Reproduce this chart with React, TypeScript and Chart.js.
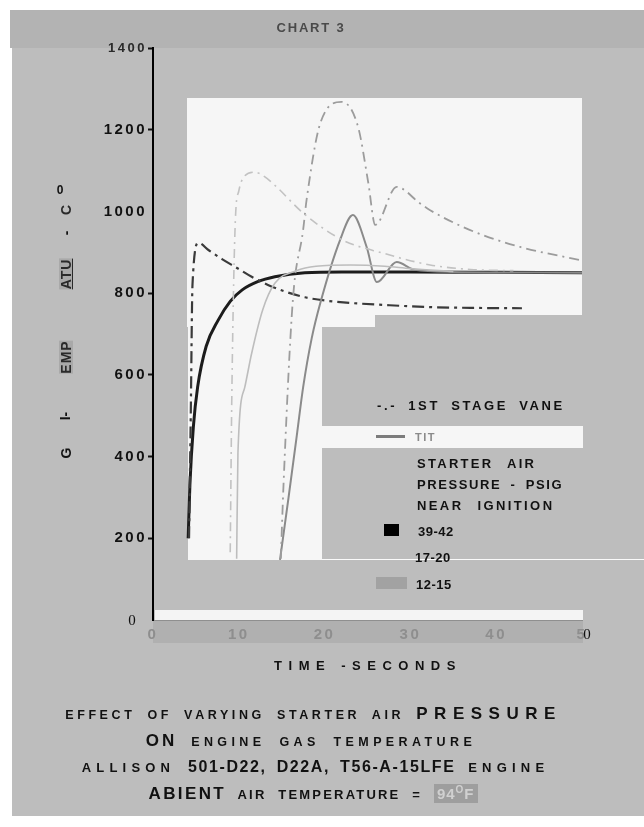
import React, { useEffect, useRef } from "react";
import { Chart, registerables } from "chart.js";

Chart.register(...registerables);

// ---- axis ticks ----
const xTickValues = [0, 10, 20, 30, 40, 50];
const xTickLabels = ["0", "10", "20", "30", "40", "5"];
const yTickValues = [0, 200, 400, 600, 800, 1000, 1200, 1400];
const yTickLabels = ["", "200", "400", "600", "800", "1000", "1200", "1400"];

// ---- series: starter air pressure 39-42 psig ----
const vane3942Time = [4.2, 4.4, 4.6, 5.3, 6.5, 8.0, 9.6, 11.5, 13.4, 15.5, 17.7, 20, 23, 27, 32, 37, 43];
const vane3942Temp = [200, 500, 820, 923, 905, 884, 864, 840, 820, 803, 790, 782, 776, 771, 766, 764, 763];
const tit3942Time = [4.1, 4.3, 4.7, 5.2, 6.2, 7.6, 9.0, 10.4, 12.2, 14.2, 17.7, 22, 30, 40, 50];
const tit3942Temp = [200, 330, 472, 570, 670, 734, 780, 808, 828, 840, 850, 852, 852, 851, 850];

// ---- series: 17-20 psig ----
const vane1720Time = [9.0, 9.2, 9.6, 10.0, 10.6, 11.9, 13.0, 14.4, 17.5, 22.1, 26.8, 32.3, 37, 42];
const vane1720Temp = [166, 570, 979, 1050, 1085, 1096, 1085, 1060, 996, 930, 898, 869, 858, 855];
const tit1720Time = [9.75, 9.9, 10.7, 11.5, 12.8, 14.2, 16.7, 19, 23, 27, 30, 35];
const tit1720Temp = [150, 409, 570, 653, 760, 824, 855, 866, 869, 866, 860, 853];

// ---- series: 12-15 psig ----
const vane1215Time = [14.9, 15.2, 16.3, 17.5, 17.9, 19.5, 22.0, 23.9, 25.1, 25.9, 28.4, 31.1, 32.3, 36.9, 42.8, 50];
const vane1215Temp = [150, 325, 783, 955, 1028, 1216, 1268, 1207, 1069, 967, 1060, 1020, 1003, 955, 913, 880];
const tit1215Time = [14.8, 15.8, 16.8, 17.5, 18.5, 19.5, 21.8, 23.3, 24.9, 26.1, 28.4, 30.5, 35, 50];
const tit1215Temp = [147, 300, 458, 570, 690, 776, 930, 991, 913, 827, 876, 857, 852, 850];

const zip = (xs: number[], ys: number[]) => xs.map((x, i) => ({ x, y: ys[i] }));

const SANS = "'Liberation Sans', Arial, Helvetica, sans-serif";
const SERIF = "'Liberation Serif', 'Times New Roman', serif";

const scanBackground = {
  id: "scanBackground",
  beforeDraw(chart: any) {
    const c = chart.ctx;
    c.save();
    c.fillStyle = "#ffffff";
    c.fillRect(0, 0, chart.width, chart.height);
    // page
    c.fillStyle = "#bdbdbd";
    c.fillRect(12, 48, 632, 768);
    // header band
    c.fillStyle = "#b3b3b3";
    c.fillRect(10, 10, 634, 38);
    // white plot patches
    c.fillStyle = "#f6f6f6";
    c.fillRect(187, 98, 395, 217);
    c.fillRect(187, 315, 188, 12);
    c.fillRect(188, 327, 134, 233);
    c.fillRect(322, 426, 261, 22);
    // white line along legend box bottom
    c.fillStyle = "#fafafa";
    c.fillRect(322, 559, 322, 1);
    // white strip above x axis
    c.fillStyle = "#f4f4f4";
    c.fillRect(155, 610, 428, 10);
    // darker strip of x tick labels
    c.fillStyle = "#b0b0b0";
    c.fillRect(153, 621, 430, 22);
    c.restore();
    // spaced-out typewriter lettering for the tick labels
    c.letterSpacing = "2.5px";
  },
  afterDraw(chart: any) {
    chart.ctx.letterSpacing = "0px";
  },
};

const lbl: React.CSSProperties = {
  position: "absolute",
  whiteSpace: "nowrap",
  fontFamily: SANS,
  fontWeight: 700,
  color: "#111",
  lineHeight: 1,
};

function At(props: { x: number; y: number; center?: boolean; style?: React.CSSProperties; children: React.ReactNode }) {
  const { x, y, center, style, children } = props;
  return (
    <div
      style={{
        ...lbl,
        left: x,
        top: y,
        transform: center ? "translate(-50%,-50%)" : "translate(0,-50%)",
        ...style,
      }}
    >
      {children}
    </div>
  );
}

function Rot(props: { x: number; y: number; style?: React.CSSProperties; children: React.ReactNode }) {
  return (
    <div
      style={{
        ...lbl,
        left: props.x,
        top: props.y,
        fontSize: 14,
        transform: "translate(-50%,-50%) rotate(-90deg)",
        ...props.style,
      }}
    >
      {props.children}
    </div>
  );
}

export default function App() {
  const ref = useRef<HTMLCanvasElement | null>(null);

  useEffect(() => {
    if (!ref.current) return;
    const chart = new Chart(ref.current, {
      type: "line",
      data: {
        datasets: [
          {
            label: "17-20 1ST STAGE VANE",
            data: zip(vane1720Time, vane1720Temp),
            borderColor: "#c2c2c2",
            borderWidth: 1.6,
            borderDash: [9, 5, 2, 5],
          },
          {
            label: "17-20 TIT",
            data: zip(tit1720Time, tit1720Temp),
            borderColor: "#bdbdbd",
            borderWidth: 1.6,
          },
          {
            label: "12-15 1ST STAGE VANE",
            data: zip(vane1215Time, vane1215Temp),
            borderColor: "#9c9c9c",
            borderWidth: 1.8,
            borderDash: [10, 5, 2, 5],
          },
          {
            label: "12-15 TIT",
            data: zip(tit1215Time, tit1215Temp),
            borderColor: "#8a8a8a",
            borderWidth: 2,
          },
          {
            label: "39-42 1ST STAGE VANE",
            data: zip(vane3942Time, vane3942Temp),
            borderColor: "#3a3a3a",
            borderWidth: 2.2,
            borderDash: [12, 5, 3, 5],
          },
          {
            label: "39-42 TIT",
            data: zip(tit3942Time, tit3942Temp),
            borderColor: "#1c1c1c",
            borderWidth: 3,
          },
        ],
      },
      options: {
        responsive: false,
        animation: false,
        devicePixelRatio: 1,
        parsing: false,
        elements: {
          point: { radius: 0 },
          line: { cubicInterpolationMode: "monotone", fill: false },
        },
        layout: { padding: { left: 0, top: 48, right: 62, bottom: 0 } },
        plugins: {
          legend: { display: false },
          tooltip: { enabled: false },
          title: { display: false },
        },
        scales: {
          x: {
            type: "linear",
            min: 0,
            max: 50,
            afterBuildTicks: (s: any) => {
              s.ticks = xTickValues.map((v) => ({ value: v }));
            },
            afterFit: (s: any) => {
              s.height = 207;
            },
            grid: { display: false, drawTicks: false },
            border: { display: true, color: "#8f8f8f", width: 1 },
            ticks: {
              padding: 6,
              color: "#8e8e8e",
              font: { family: SANS, size: 15, weight: "bold" },
              callback: (v: any) => xTickLabels[xTickValues.indexOf(Number(v))] ?? "",
            },
          },
          y: {
            type: "linear",
            min: 0,
            max: 1400,
            afterBuildTicks: (s: any) => {
              s.ticks = yTickValues.map((v) => ({ value: v }));
            },
            afterFit: (s: any) => {
              s.width = 153;
            },
            grid: {
              display: true,
              drawOnChartArea: false,
              drawTicks: true,
              tickLength: 5,
              tickWidth: 2,
              color: (ctx: any) => (ctx.tick && (ctx.tick.value === 0 || ctx.tick.value === 1000) ? "rgba(0,0,0,0)" : "#111"),
            },
            border: { display: true, color: "#000", width: 2 },
            ticks: {
              padding: 1,
              color: (ctx: any) => (ctx.tick && ctx.tick.value === 1400 ? "#2a2a2a" : "#111"),
              font: (ctx: any) => {
                const v = ctx.tick ? ctx.tick.value : -1;
                if (v === 1400) return { family: SANS, size: 13, weight: "bold" };
                return { family: SANS, size: 15, weight: "bold" };
              },
              callback: (v: any) => yTickLabels[yTickValues.indexOf(Number(v))] ?? "",
            },
          },
        },
      },
      plugins: [scanBackground],
    } as any);
    return () => chart.destroy();
  }, []);

  return (
    <div style={{ position: "absolute", left: 0, top: 0, width: 644, height: 827, overflow: "hidden" }}>
      <canvas ref={ref} width={644} height={827} style={{ position: "absolute", left: 0, top: 0, width: 644, height: 827 }} />

      {/* header */}
      <At x={311} y={27} center style={{ fontSize: 13, color: "#4a4a4a", letterSpacing: 1.8 }}>CHART 3</At>

      {/* y axis title (scan-garbled) */}
      <Rot x={66} y={453}>G</Rot>
      <Rot x={65} y={416}>I-</Rot>
      <Rot x={66} y={357} style={{ background: "#a9a9a9", color: "#2a2a2a", letterSpacing: 1 }}>EMP</Rot>
      <Rot x={66} y={274} style={{ background: "#a9a9a9", color: "#2a2a2a", letterSpacing: 1, textDecoration: "underline" }}>ATU</Rot>
      <Rot x={66} y={233}>-</Rot>
      <Rot x={66} y={210} style={{ color: "#2a2a2a" }}>C</Rot>
      <At x={60} y={190} center style={{ fontSize: 12 }}>0</At>

      {/* serif zeros: y origin and after x tick 5 */}
      <At x={132} y={620} center style={{ fontFamily: SERIF, fontWeight: 400, fontSize: 15 }}>0</At>
      <At x={587} y={634} center style={{ fontFamily: SERIF, fontWeight: 400, fontSize: 15 }}>0</At>

      {/* x axis title */}
      <At x={368} y={665} center style={{ fontSize: 13, letterSpacing: 6.5 }}>TIME -SECONDS</At>

      {/* legend */}
      <At x={377} y={405} style={{ fontSize: 13, letterSpacing: 2.6, wordSpacing: 5 }}>-.- 1ST STAGE VANE</At>
      <div style={{ position: "absolute", left: 376, top: 435, width: 29, height: 3, background: "#7c7c7c" }} />
      <At x={415} y={437} style={{ fontSize: 11, color: "#8a8a8a", letterSpacing: 1.5 }}>TIT</At>
      <At x={417} y={463} style={{ fontSize: 13, letterSpacing: 2.3, wordSpacing: 8 }}>STARTER AIR</At>
      <At x={417} y={484} style={{ fontSize: 13, letterSpacing: 1.6, wordSpacing: 4 }}>PRESSURE - PSIG</At>
      <At x={417} y={505} style={{ fontSize: 13, letterSpacing: 2.4, wordSpacing: 8 }}>NEAR IGNITION</At>
      <div style={{ position: "absolute", left: 384, top: 524, width: 15, height: 12, background: "#000" }} />
      <At x={418} y={531} style={{ fontSize: 13, letterSpacing: 0.5 }}>39-42</At>
      <At x={415} y={557} style={{ fontSize: 13, letterSpacing: 0.5 }}>17-20</At>
      <div style={{ position: "absolute", left: 376, top: 577, width: 31, height: 12, background: "#a2a2a2" }} />
      <At x={416} y={584} style={{ fontSize: 13, letterSpacing: 0.5 }}>12-15</At>

      {/* caption */}
      <div style={{ ...lbl, left: 0, width: 627, top: 705, textAlign: "center", fontSize: 12.5, letterSpacing: 3.6, wordSpacing: 5 }}>
        EFFECT OF VARYING STARTER AIR <span style={{ fontSize: 17, letterSpacing: 6.5 }}>PRESSURE</span>
      </div>
      <div style={{ ...lbl, left: 0, width: 622, top: 732, textAlign: "center", fontSize: 12.5, letterSpacing: 4.4, wordSpacing: 6 }}>
        <span style={{ fontSize: 17, letterSpacing: 3 }}>ON</span> ENGINE GAS TEMPERATURE
      </div>
      <div style={{ ...lbl, left: 0, width: 631, top: 759, textAlign: "center", fontSize: 13, letterSpacing: 5.2, wordSpacing: 4 }}>
        ALLISON <span style={{ fontSize: 16, letterSpacing: 1.6 }}>501-D22, D22A, T56-A-15LFE</span> ENGINE
      </div>
      <div style={{ ...lbl, left: 0, width: 626, top: 785, textAlign: "center", fontSize: 13, letterSpacing: 2.2, wordSpacing: 6 }}>
        <span style={{ fontSize: 17, letterSpacing: 2.4 }}>ABIENT</span> AIR TEMPERATURE ={" "}
        <span style={{ background: "#9e9e9e", color: "#d0d0d0", fontSize: 15, letterSpacing: 1, padding: "1px 3px" }}>
          94<sup style={{ fontSize: 10 }}>O</sup>F
        </span>
      </div>
    </div>
  );
}
